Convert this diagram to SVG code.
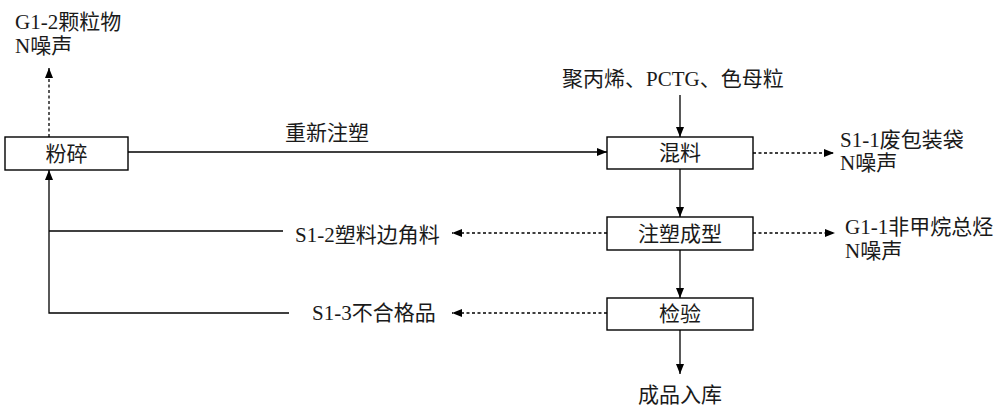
<svg xmlns="http://www.w3.org/2000/svg" width="998" height="408" viewBox="0 0 998 408">
<style>
.box{fill:#fff;stroke:#000;stroke-width:1.4}
.t{font-family:"Liberation Serif","Noto Sans CJK SC",serif;font-size:21px;fill:#1a1a1a}
.c{text-anchor:middle}
.ln{fill:none;stroke:#000;stroke-width:1.3}
.d{stroke-dasharray:3,2.5}
</style>
<defs>
<marker id="ah" viewBox="0 0 10 10" refX="10" refY="5" markerWidth="10" markerHeight="10" markerUnits="userSpaceOnUse" orient="auto">
<path d="M0,1 L10,5 L0,9 Z" fill="#000"/>
</marker>
</defs>
<rect width="998" height="408" fill="#fff"/>
<g id="connectors">
<line class="ln d" x1="49" y1="137" x2="49" y2="68" marker-end="url(#ah)"/>
<line class="ln" x1="128" y1="152" x2="607" y2="152" marker-end="url(#ah)"/>
<line class="ln" x1="680" y1="95" x2="680" y2="137" marker-end="url(#ah)"/>
<line class="ln d" x1="753" y1="153" x2="834" y2="153" marker-end="url(#ah)"/>
<line class="ln" x1="680" y1="169" x2="680" y2="217" marker-end="url(#ah)"/>
<line class="ln d" x1="753" y1="233" x2="835" y2="233" marker-end="url(#ah)"/>
<line class="ln d" x1="607" y1="233" x2="452" y2="233" marker-end="url(#ah)"/>
<line class="ln" x1="680" y1="250" x2="680" y2="298" marker-end="url(#ah)"/>
<line class="ln d" x1="607" y1="313" x2="452" y2="313" marker-end="url(#ah)"/>
<line class="ln" x1="680" y1="330" x2="680" y2="374" marker-end="url(#ah)"/>
<polyline class="ln" points="283,231 49,231"/>
<polyline class="ln" points="289,313 49,313 49,170" marker-end="url(#ah)"/>
</g>
<g id="fensui">
<rect class="box" x="5" y="137" width="123" height="33"/>
<text class="t c" x="66.5" y="161">粉碎</text>
</g>
<g id="hunliao">
<rect class="box" x="607" y="137" width="146" height="32"/>
<text class="t c" x="680" y="160">混料</text>
</g>
<g id="zhusu">
<rect class="box" x="607" y="217" width="146" height="33"/>
<text class="t c" x="680" y="241">注塑成型</text>
</g>
<g id="jianyan">
<rect class="box" x="607" y="298" width="146" height="32"/>
<text class="t c" x="680" y="321">检验</text>
</g>
<g id="labels">
<text class="t" x="15" y="29">G1-2颗粒物</text>
<text class="t" x="15" y="53">N噪声</text>
<text class="t c" x="327" y="140">重新注塑</text>
<text class="t" x="562" y="86">聚丙烯、PCTG、色母粒</text>
<text class="t" x="840" y="147">S1-1废包装袋</text>
<text class="t" x="840" y="170">N噪声</text>
<text class="t" x="845" y="234">G1-1非甲烷总烃</text>
<text class="t" x="845" y="258">N噪声</text>
<text class="t" x="295" y="242">S1-2塑料边角料</text>
<text class="t" x="312" y="320">S1-3不合格品</text>
<text class="t c" x="680" y="402">成品入库</text>
</g>
</svg>
